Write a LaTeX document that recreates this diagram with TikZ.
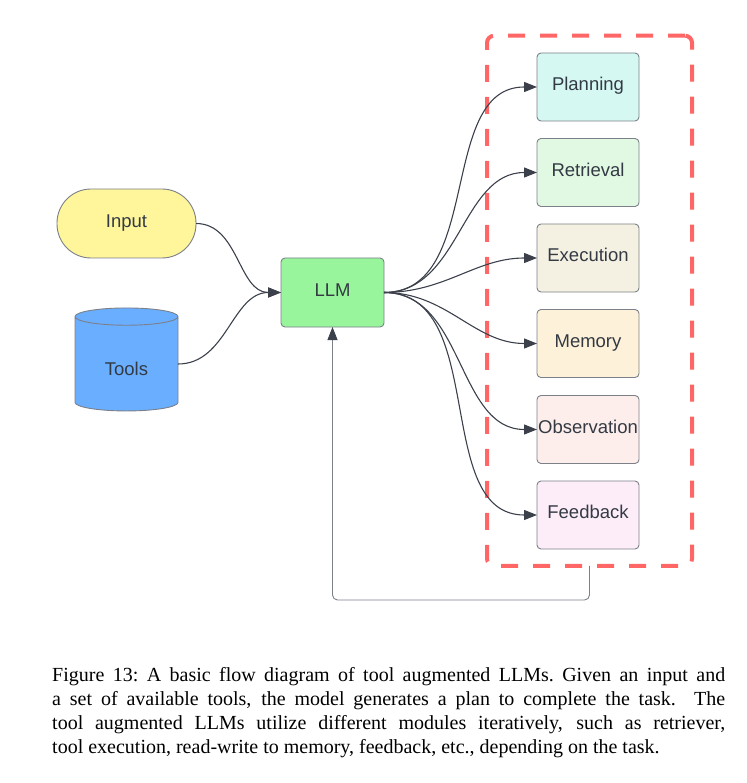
\documentclass[tikz,border=0pt]{standalone}
\usepackage{fontspec}
\setmainfont{Liberation Serif}
\newfontfamily\diagfont{Liberation Sans}
\usetikzlibrary{shapes.geometric,arrows.meta}

\definecolor{inputyellow}{HTML}{FFF59B}
\definecolor{toolsblue}{HTML}{6AAEFF}
\definecolor{llmgreen}{HTML}{99F59B}
\definecolor{planfill}{HTML}{D6F8F3}
\definecolor{retrfill}{HTML}{E1F8E3}
\definecolor{execfill}{HTML}{F5F1E2}
\definecolor{memfill}{HTML}{FEF1D9}
\definecolor{obsfill}{HTML}{FDEEEC}
\definecolor{feedfill}{HTML}{FDEDF9}
\definecolor{groupred}{HTML}{FF6666}
\definecolor{linkgray}{HTML}{3B404B}
\definecolor{boxgray}{HTML}{7B8089}
\definecolor{textgray}{HTML}{333A44}

\begin{document}
\begin{tikzpicture}[x=1pt,y=-1pt]
				\tikzset{block/.style={
						draw=boxgray,
						line width=0.9pt,
						text=textgray,
						inner sep=0pt,
						outer sep=0pt,
						text height=13pt,
						text depth=5.6pt,
						font=\diagfont\fontsize{18.5}{20}\selectfont},
					module/.style={
						block,
						rounded corners=4pt,
						minimum width=102pt,
						minimum height=68pt},
					link/.style={
						-{Triangle[length=13pt,width=10pt,color=linkgray]},
						draw=linkgray,
						line width=1.1pt},
					group/.style={
						draw=groupred,
						line width=4pt,
						rounded corners=7pt,
						dash pattern=on 17pt off 15pt,
						minimum width=205pt,
						minimum height=530pt,
						outer sep=0pt},
					caption/.style={
						inner sep=0pt,
						text width=673pt,
						align=justify,
						font=\fontsize{20}{24}\selectfont}
				}
				
				\useasboundingbox (0,0) rectangle (746,783);
				
				%% INPUTS
				\node[block, fill=inputyellow, rounded corners=34pt, minimum width=139pt, minimum height=69pt] (Input) at (126.5,223.5) {Input};
				\node[block, fill=toolsblue, cylinder, shape border rotate=90, aspect=0.4, minimum width=103pt, minimum height=103pt] (Tools) at (126.5,364) {\raisebox{-7.5pt}{Tools}};
				\node[block, fill=llmgreen, rounded corners=4pt, minimum width=103pt, minimum height=69pt] (LLM) at (332.5,292.5) {LLM};
				
				%% MODULES
				\node[group] (Group) at (589.5,300.75) {};
				\node[module, fill=planfill] (Planning) at (588,87) {Planning};
				\node[module, fill=retrfill] (Retrieval) at (588,172.5) {Retrieval};
				\node[module, fill=execfill] (Execution) at (588,258) {Execution};
				\node[module, fill=memfill] (Memory) at (588,343.5) {Memory};
				\node[module, fill=obsfill] (Observation) at (588,429.5) {Observation};
				\node[module, fill=feedfill] (Feedback) at (588,515) {Feedback};
				
				\draw[link] (Input.east) to[out=0, in=180] (LLM.west);
				\draw[link] (Tools.east) to[out=0, in=180] (LLM.west);
				
				\draw[link] (LLM.east) to[out=0, in=180] (Planning.west);
				\draw[link] (LLM.east) to[out=0, in=180] (Retrieval.west);
				\draw[link] (LLM.east) to[out=0, in=180] (Execution.west);
				\draw[link] (LLM.east) to[out=0, in=180] (Memory.west);
				\draw[link] (LLM.east) to[out=0, in=180] (Observation.west);
				\draw[link] (LLM.east) to[out=0, in=180] (Feedback.west);
				
				%% LOOP BACK
				\coordinate (LoopEnd) at (332.5,600);
				\draw[link, draw=boxgray, line width=0.9pt, rounded corners=5pt] (Group.south) |- (LoopEnd) -- (LLM.south);
				
				%% CAPTION
				\node[caption, anchor=north west] (Caption) at (52,667) {Figure 13:\ A basic flow diagram of tool augmented LLMs.\ Given an input and\linebreak
					a set of available tools, the model generates a plan to complete the task. The\linebreak
					tool augmented LLMs utilize different modules iteratively, such as retriever,\linebreak
					tool execution, read-write to memory, feedback, etc., depending on the task.};
				
			\end{tikzpicture}
\end{document}
